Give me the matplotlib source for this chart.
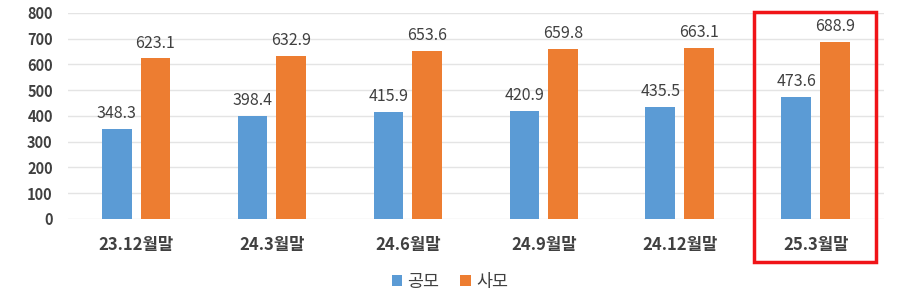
import numpy as np
import matplotlib
matplotlib.use("Agg")
import matplotlib.pyplot as plt
from matplotlib.patches import Rectangle

plt.rcParams["font.family"] = ["Noto Sans CJK KR", "DejaVu Sans"]

categories = ["23.12월말", "24.3월말", "24.6월말", "24.9월말", "24.12월말", "25.3월말"]
public = [348.3, 398.4, 415.9, 420.9, 435.5, 473.6]
private = [623.1, 632.9, 653.6, 659.8, 663.1, 688.9]
series_names = ["공모", "사모"]

BLUE = "#5B9BD5"
ORANGE = "#ED7D31"
TXT = "#404040"

fig = plt.figure(figsize=(9.0, 3.08), dpi=100)
ax = fig.add_axes([0.0756, 0.289, 0.9064, 0.669])

x = np.arange(len(categories))
w = 0.22
off = 0.143
b1 = ax.bar(x - off, public, w, color=BLUE, label=series_names[0], zorder=3)
b2 = ax.bar(x + off, private, w, color=ORANGE, label=series_names[1], zorder=3)

for bars, vals in ((b1, public), (b2, private)):
    for r, v in zip(bars, vals):
        ax.annotate(f"{v:.1f}", (r.get_x() + r.get_width() / 2, v),
                    xytext=(0, 5), textcoords="offset points",
                    ha="center", va="bottom", fontsize=11.5,
                    fontweight="medium", color=TXT)

ax.set_xlim(-0.5, len(categories) - 0.5)
ax.set_ylim(0, 800)
ax.set_yticks(np.arange(0, 801, 100))
ax.set_xticks(x)
ax.set_xticklabels(categories)
ax.tick_params(axis="x", length=0, labelsize=12, colors=TXT, pad=12)
ax.tick_params(axis="y", length=0, labelsize=10.5, colors=TXT, pad=11)
for lbl in ax.get_yticklabels() + ax.get_xticklabels():
    lbl.set_fontweight("bold")
ax.grid(axis="y", color="#E4E4E4", lw=1.0, zorder=0)
for s in ax.spines.values():
    s.set_visible(False)

# red highlight around the last period
last = len(categories) - 1
ax.add_patch(Rectangle((last - 0.456, -167), 0.897, 971, fill=False,
                       edgecolor="#F01418", lw=2.5, clip_on=False, zorder=5))

leg = fig.legend(loc="center", bbox_to_anchor=(0.5, 0.085), ncol=2, frameon=False,
                 fontsize=12.5, handlelength=0.6, handleheight=0.6,
                 handletextpad=0.3, columnspacing=1.2)
for t in leg.get_texts():
    t.set_color(TXT)
    t.set_fontweight("medium")

fig.savefig("out.png", dpi=100)
